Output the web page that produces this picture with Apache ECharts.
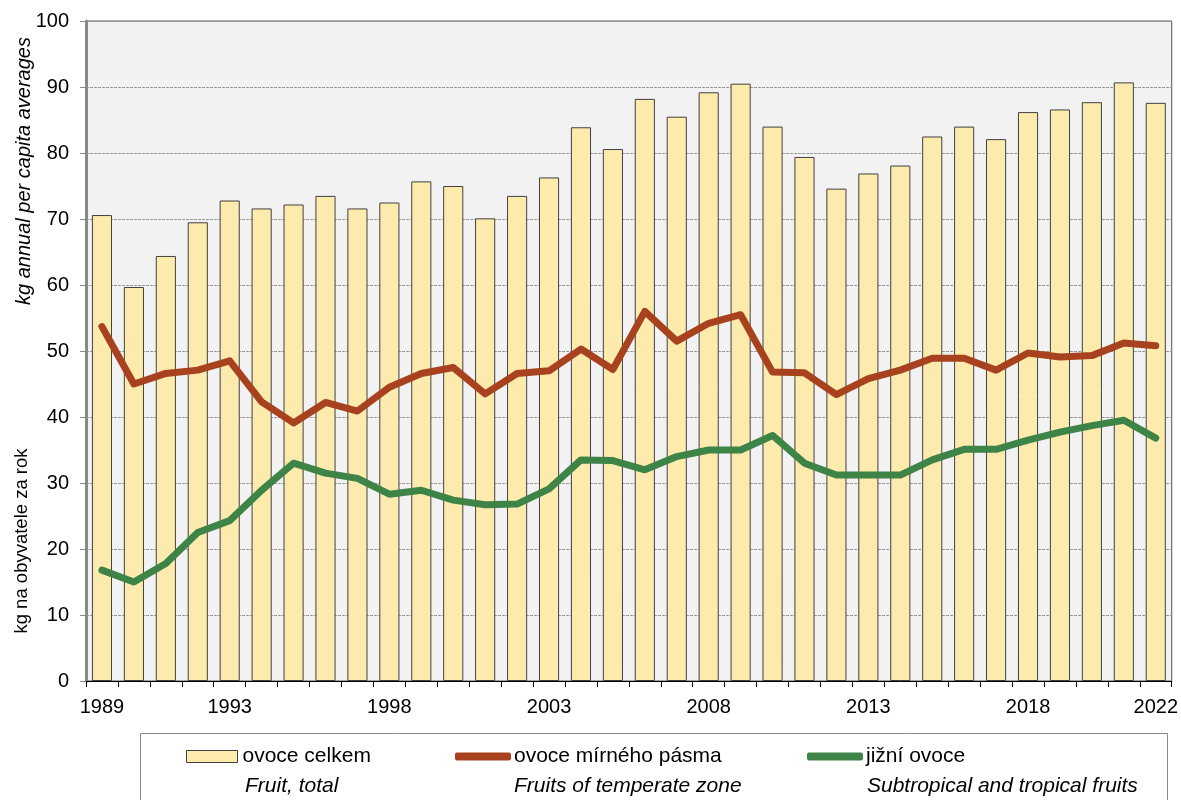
<!DOCTYPE html>
<html>
<head>
<meta charset="utf-8">
<script src="https://cdn.jsdelivr.net/npm/echarts@6/dist/echarts.min.js"></script>
<style>
  html, body { margin: 0; padding: 0; background: #fff; }
  #chart { width: 1181px; height: 800px; }
</style>
</head>
<body>
<div id="chart"></div>
<script>
  // data
  const years = ['1989', '1990', '1991', '1992', '1993', '1994', '1995', '1996', '1997', '1998',
    '1999', '2000', '2001', '2002', '2003', '2004', '2005', '2006', '2007', '2008',
    '2009', '2010', '2011', '2012', '2013', '2014', '2015', '2016', '2017', '2018',
    '2019', '2020', '2021', '2022'];
  const shownYears = ['1989', '1993', '1998', '2003', '2008', '2013', '2018', '2022'];
  const fruitTotal = [70.6, 59.7, 64.4, 69.5, 72.8, 71.6, 72.2, 73.5, 71.6, 72.5,
    75.7, 75.0, 70.1, 73.5, 76.3, 83.9, 80.6, 88.2, 85.5, 89.2,
    90.5, 84.0, 79.4, 74.6, 76.9, 78.1, 82.5, 84.0, 82.1, 86.2,
    86.6, 87.7, 90.7, 87.6];
  const temperate = [53.7, 45.0, 46.6, 47.1, 48.5, 42.3, 39.1, 42.2, 40.9, 44.5,
    46.6, 47.5, 43.5, 46.6, 47.0, 50.3, 47.2, 56.0, 51.5, 54.2,
    55.5, 46.8, 46.7, 43.4, 45.8, 47.1, 48.9, 48.9, 47.1, 49.7,
    49.1, 49.3, 51.2, 50.8];
  const tropical = [16.8, 15.0, 17.8, 22.5, 24.3, 28.9, 33.0, 31.5, 30.7, 28.3,
    28.9, 27.4, 26.7, 26.8, 29.1, 33.5, 33.4, 32.0, 34.0, 35.0,
    35.0, 37.2, 33.0, 31.2, 31.2, 31.2, 33.5, 35.1, 35.1, 36.5,
    37.7, 38.7, 39.5, 36.8];

  const FONT = '"Liberation Sans", Arial, sans-serif';
  const RED = '#a8421e';
  const GREEN = '#3f8447';

  const chart = echarts.init(document.getElementById('chart'));

  const legendText = { fontFamily: FONT, fontSize: 21, color: '#000' };
  const lineLegendText = { fontFamily: FONT, fontSize: 21, color: '#000', padding: [0, 0, 0, -2] };

  const option = {
    animation: false,
    grid: {
      left: 86,
      right: 9,
      top: 21,
      bottom: 119,
      show: true,
      backgroundColor: '#f2f2f2',
      borderColor: '#555',
      borderWidth: 1,
    },
    legend: [
      {
        data: ['ovoce celkem'],
        left: 186, top: 746, padding: 0,
        itemWidth: 51, itemHeight: 12, icon: 'rect',
        itemStyle: { borderColor: '#404040', borderWidth: 1 },
        textStyle: legendText,
        selectedMode: false,
      },
      {
        data: ['ovoce mírného pásma'],
        left: 455, top: 746, padding: 0,
        itemWidth: 56, itemHeight: 8, icon: 'roundRect',
        textStyle: lineLegendText,
        selectedMode: false,
      },
      {
        data: ['jižní ovoce'],
        left: 807, top: 746, padding: 0,
        itemWidth: 56, itemHeight: 8, icon: 'roundRect',
        textStyle: lineLegendText,
        selectedMode: false,
      },
    ],
    xAxis: {
      type: 'category',
      data: years,
      boundaryGap: true,
      axisLine: { lineStyle: { color: '#000', width: 1 } },
      axisTick: { show: true, interval: 0, length: 6, lineStyle: { color: '#000' } },
      axisLabel: {
        interval: (idx, val) => shownYears.includes(val),
        fontFamily: FONT, fontSize: 20, color: '#000', margin: 16,
      },
      splitLine: { show: false },
    },
    yAxis: {
      type: 'value',
      min: 0,
      max: 100,
      interval: 10,
      axisLine: { show: true, lineStyle: { color: '#888', width: 3 } },
      axisTick: { show: true, length: 6, lineStyle: { color: '#888', width: 1 } },
      axisLabel: { fontFamily: FONT, fontSize: 20, color: '#000', margin: 17 },
      splitLine: { show: true, lineStyle: { color: '#999', type: [3, 1], width: 1 } },
    },
    series: [
      {
        name: 'ovoce celkem',
        type: 'bar',
        data: fruitTotal,
        barCategoryGap: '37%',
        itemStyle: { color: '#fdeaad', borderColor: '#404040', borderWidth: 1 },
        z: 2,
      },
      {
        name: 'ovoce mírného pásma',
        type: 'line',
        data: temperate,
        symbol: 'none',
        lineStyle: { color: RED, width: 7, cap: 'round', join: 'round' },
        itemStyle: { color: RED },
        z: 4,
      },
      {
        name: 'jižní ovoce',
        type: 'line',
        data: tropical,
        symbol: 'none',
        lineStyle: { color: GREEN, width: 7, cap: 'round', join: 'round' },
        itemStyle: { color: GREEN },
        z: 4,
      },
    ],
    graphic: [
      // legend frame
      {
        type: 'rect',
        shape: { x: 140.5, y: 733.5, width: 1027, height: 80 },
        style: { fill: 'none', stroke: '#888', lineWidth: 1 },
      },
      {
        type: 'text', x: 245, y: 786,
        style: { text: 'Fruit, total', font: 'italic 21px ' + FONT, fill: '#000', verticalAlign: 'middle' },
      },
      {
        type: 'text', x: 514, y: 786,
        style: { text: 'Fruits of temperate zone', font: 'italic 21px ' + FONT, fill: '#000', verticalAlign: 'middle' },
      },
      {
        type: 'text', x: 867, y: 786,
        style: { text: 'Subtropical and tropical fruits', font: 'italic 21px ' + FONT, fill: '#000', verticalAlign: 'middle' },
      },
      // y-axis names
      {
        type: 'text', x: 24, y: 171, rotation: Math.PI / 2,
        style: {
          text: 'kg annual per capita averages', font: 'italic 20px ' + FONT, fill: '#000',
          align: 'center', verticalAlign: 'middle',
        },
      },
      {
        type: 'text', x: 22, y: 541, rotation: Math.PI / 2,
        style: {
          text: 'kg na obyvatele za rok', font: '18.5px ' + FONT, fill: '#000',
          align: 'center', verticalAlign: 'middle',
        },
      },
    ],
  };

  chart.setOption(option);
</script>
</body>
</html>
